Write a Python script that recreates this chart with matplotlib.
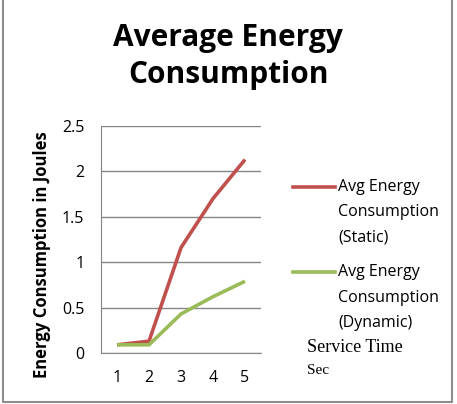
import matplotlib
matplotlib.use("Agg")
import matplotlib.pyplot as plt
from matplotlib.lines import Line2D

categories = ["1", "2", "3", "4", "5"]
static_vals = [0.09, 0.13, 1.16, 1.70, 2.13]
dynamic_vals = [0.09, 0.09, 0.43, 0.62, 0.79]
yticks = [0, 0.5, 1, 1.5, 2, 2.5]
ytick_labels = ["0", "0.5", "1", "1.5", "2", "2.5"]

plt.rcParams['font.family'] = ['Open Sans', 'DejaVu Sans']

W, H = 457, 404
fig = plt.figure(figsize=(W / 100, H / 100), dpi=100)

# outer border (left, bottom, right; no top)
bx0, bx1, by = 3 / W, 452 / W, 1 - 402 / H
fig.add_artist(Line2D([bx0, bx0, bx1, bx1], [1.0, by, by, 1.0], transform=fig.transFigure,
                      color="#8c8c8c", linewidth=1.5))

ax = fig.add_axes([101 / W, 1 - 353 / H, 160 / W, (353 - 126) / H])
x = list(range(1, len(categories) + 1))
ax.plot(x, static_vals, color="#C0504D", linewidth=2.6, solid_capstyle="butt")
ax.plot(x, dynamic_vals, color="#9BBB59", linewidth=2.6, solid_capstyle="butt")
ax.set_xlim(0.5, 5.5)
ax.set_ylim(0, 2.5)
ax.set_xticks(x)
ax.set_xticklabels(categories)
ax.set_yticks(yticks)
ax.set_yticklabels(ytick_labels)
ax.tick_params(axis="both", length=0, labelsize=11.5, colors="#000000")
ax.tick_params(axis="x", pad=12)
ax.tick_params(axis="y", pad=12)
ax.grid(axis="y", color="#868686", linewidth=1)
ax.set_axisbelow(True)
for s in ["top", "right"]:
    ax.spines[s].set_visible(False)
ax.spines["left"].set_color("#868686")
ax.spines["bottom"].set_color("#868686")

ax.set_ylabel("Energy Consumption in Joules", fontsize=12, fontweight="bold")
ax.yaxis.set_label_coords(-59 / 160, (353 - 255) / (353 - 126))
ax.yaxis.label.set_verticalalignment("center")

fig.text(228 / W, 1 - 38 / H, "Average Energy", ha="center", va="center",
         fontsize=21.5, fontweight="bold")
fig.text(228 / W, 1 - 75 / H, "Consumption", ha="center", va="center",
         fontsize=21.5, fontweight="bold")

# legend
def legend_entry(y_line, color, lines):
    fig.add_artist(Line2D([293 / W, 335 / W], [1 - y_line / H, 1 - y_line / H],
                          transform=fig.transFigure, color=color, linewidth=2.6))
    for i, t in enumerate(lines):
        fig.text(338 / W, 1 - (y_line + i * 25.5) / H, t, ha="left", va="center", fontsize=11.5)

legend_entry(187, "#C0504D", ["Avg Energy", "Consumption", "(Static)"])
legend_entry(272, "#9BBB59", ["Avg Energy", "Consumption", "(Dynamic)"])

fig.text(307 / W, 1 - 348 / H, "Service Time", ha="left", va="center", fontsize=13,
         family="Liberation Serif")
fig.text(307 / W, 1 - 370 / H, "Sec", ha="left", va="center", fontsize=11,
         family="Liberation Serif")

fig.savefig("out.png", dpi=100)
